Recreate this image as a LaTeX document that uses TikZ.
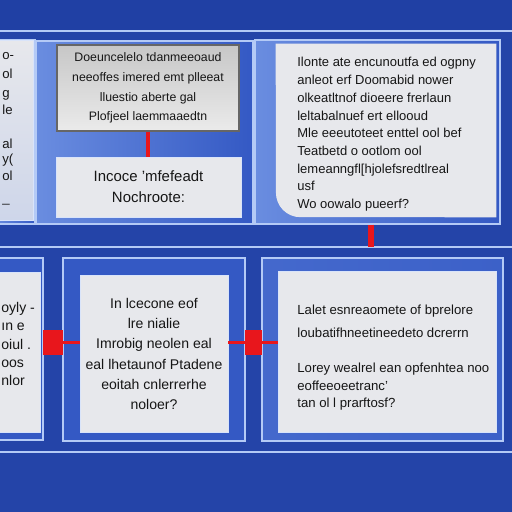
\documentclass[tikz,border=0pt]{standalone}
\usepackage{fontspec}
\setmainfont{Liberation Sans}
\usetikzlibrary{fit}
\definecolor{bgblue}{HTML}{2444A8}
\definecolor{topblue}{HTML}{2040A4}
\definecolor{panelblue}{HTML}{3459C4}
\definecolor{panelhi}{HTML}{6A8DE0}
\definecolor{edgeblue}{HTML}{B4CAF6}
\definecolor{boxgray}{HTML}{E7E8EC}
\definecolor{linkred}{HTML}{E8161C}
\definecolor{inkgray}{HTML}{161616}
\tikzset{
  panel/.style={draw=edgeblue, line width=0.6pt, inner sep=0pt,
    left color=panelhi, right color=panelblue},
  flatpanel/.style={draw=edgeblue, line width=0.6pt, inner sep=0pt, fill=panelblue},
  card/.style={draw=edgeblue!50!white, line width=0.4pt, fill=boxgray, inner sep=0pt},
  silver/.style={draw=black!60, line width=0.8pt, inner sep=0pt,
    top color=black!22, bottom color=black!8},
  txt/.style={text=inkgray, font=\fontsize{8}{11}\selectfont, align=center, inner sep=0pt},
  redlink/.style={linkred, line width=1.8pt},
  thinred/.style={linkred, line width=1.2pt},
  redbar/.style={fill=linkred, draw=none, inner sep=0pt},
  rule/.style={draw=edgeblue, line width=0.8pt}
}
\begin{document}
\begin{tikzpicture}[x=0.02cm,y=-0.02cm]
\useasboundingbox (0,0) rectangle (512,512);
\fill[bgblue] (0,0) rectangle (512,512);
\fill[topblue] (0,0) rectangle (512,31);
\begin{scope}
\clip (0,0) rectangle (512,512);
% rules across the page
\draw[rule] (0,31) -- (512,31);
\draw[rule] (0,247) -- (512,247);
\draw[rule] (0,452) -- (512,452);

% top row
\node[panel, fit={(-5,40) (35,224)}] (leftpanel) {};
\node[card, fit={(-5,40) (33,220)}, top color=boxgray, bottom color=boxgray!80!panelhi] (leftcard) {};
\node[txt, anchor=north west, align=left, font=\fontsize{7.5}{9.6}\selectfont]
  at (2,52) {o-\\[1.5pt]ol\\[1pt]g\\[0pt]le\\[10pt]al\\[-1pt]y(\\[0pt]ol\\[3pt]\_};

\node[panel, fit={(36,41) (253,224)}] (askpanel) {};
\node[silver, fit={(57,45) (239,131)}] (query) {};
\node[txt, font=\fontsize{7}{11.2}\selectfont] at (query)
  {Doeuncelelo tdanmeeoaud\\neeoffes imered emt plleeat\\lluestio aberte gal\\Plofjeel laemmaaedtn};
\node[card, fit={(56,157) (241,217)}] (note) {};
\node[txt, font=\fontsize{8.5}{12}\selectfont] at (note)
  {Incoce 'mfefeadt\\Nochroote:};
\draw[redlink] (query.south) -- (query.south |- note.north);

\node[panel, fit={(255,40) (500,224)}] (planpanel) {};
\node[fit={(276,44) (496,217)}, inner sep=0pt] (plan) {};
\fill[boxgray] (plan.north east) -- (plan.north west) -- (276,185)
  {[rounded corners=0.5cm] -- (plan.south west) -- (330,217)} -- (plan.south east) -- cycle;
\node[txt, anchor=north west, align=left, font=\fontsize{7.4}{10.1}\selectfont] at (297,57)
  {Ilonte ate encunoutfa ed ogpny\\anleot erf Doomabid nower\\olkeatltnof dioeere frerlaun\\
   leltabalnuef ert ellooud\\Mle eeeutoteet enttel ool bef\\Teatbetd o ootlom ool\\
   lemeanngfl[hjolefsredtlreal\\usf\\Wo oowalo pueerf?};
\coordinate (drop) at (371,247);
\draw[linkred, line width=3.6pt] (drop |- planpanel.south) -- (drop);

% bottom row
\node[flatpanel, fit={(-5,258) (43,440)}] (sidepanel) {};
\node[card, fit={(-5,272) (40,432)}] (sidecard) {};
\node[txt, anchor=north west, align=left, font=\fontsize{8}{10.4}\selectfont]
  at (1,302) {oyly -\\ın e\\oiul .\\oos\\nlor};

\node[flatpanel, fit={(63,258) (245,441)}] (casepanel) {};
\node[card, fit={(80,275) (228,432)}] (casecard) {};
\node[txt, font=\fontsize{8}{11.6}\selectfont] at (154,354)
  {In lcecone eof\\lre nialie\\Imrobig neolen eal\\eal lhetaunof Ptadene\\eoitah cnlerrerhe\\noloer?};

\node[panel, left color=panelblue!70!panelhi, right color=panelblue!85!panelhi,
  fit={(262,258) (503,441)}] (endpanel) {};
\node[card, fit={(278,271) (496,432)}] (endcard) {};
\node[txt, anchor=north west, align=left, font=\fontsize{7.5}{10.1}\selectfont] at (297,305)
  {Lalet esnreaomete of bprelore\\[2.5pt]loubatifhneetineedeto dcrerrn\\[10pt]
   Lorey wealrel ean opfenhtea noo\\eoffeeoeetranc'\\tan ol l prarftosf?};

% joints between the bottom panels
\node[redbar, fit={(43,330) (63,355)}] (jointA) {};
\node[redbar, fit={(245,330) (262,355)}] (jointB) {};
\draw[thinred] (jointA.east) -- (jointA.east -| casecard.west);
\draw[thinred] (casecard.east |- jointB.west) -- (jointB.west);
\draw[thinred] (jointB.east) -- (jointB.east -| endcard.west);
\end{scope}
\end{tikzpicture}
\end{document}
